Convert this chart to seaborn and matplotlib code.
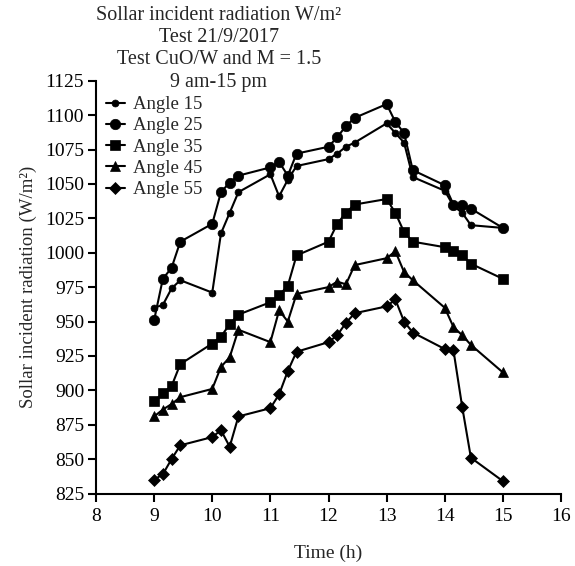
import matplotlib
matplotlib.use("Agg")
import matplotlib.pyplot as plt
import seaborn as sns
import pandas as pd
import numpy as np

# ---- data ----
times = [9, 9.15, 9.3, 9.45, 10, 10.15, 10.3, 10.45, 11, 11.15, 11.3, 11.45,
         12, 12.15, 12.3, 12.45, 13, 13.15, 13.3, 13.45, 14, 14.15, 14.3, 14.45, 15]
angle15 = [960, 962, 974, 980, 971, 1014, 1029, 1044, 1057, 1041, 1053, 1063,
           1068, 1072, 1077, 1080, 1094, 1087, 1080, 1055, 1045, 1034, 1029, 1020, 1018]
angle25 = [951, 981, 989, 1008, 1021, 1044, 1051, 1056, 1062, 1066, 1056, 1072,
           1077, 1084, 1092, 1098, 1108, 1095, 1087, 1060, 1049, 1035, 1035, 1032, 1018]
angle35 = [892, 898, 903, 919, 934, 939, 948, 955, 964, 969, 976, 998,
           1008, 1021, 1029, 1035, 1039, 1029, 1015, 1008, 1004, 1001, 998, 992, 981]
angle45 = [881, 886, 890, 895, 901, 917, 924, 944, 935, 958, 950, 970,
           975, 979, 977, 991, 996, 1001, 986, 980, 960, 946, 940, 933, 913]
angle55 = [835, 839, 850, 860, 866, 871, 859, 881, 887, 897, 914, 928,
           935, 940, 949, 956, 961, 966, 950, 942, 930, 929, 888, 851, 834]
series_labels = ["Angle 15", "Angle 25", "Angle 35", "Angle 45", "Angle 55"]
x_ticks = [8, 9, 10, 11, 12, 13, 14, 15, 16]
y_ticks = list(range(825, 1126, 25))
title_lines = ["Sollar incident radiation W/m²", "Test 21/9/2017",
               "Test CuO/W and M = 1.5", "9 am-15 pm"]

sns.set_style("ticks")
plt.rcParams['font.family'] = ['Liberation Serif', 'DejaVu Serif']

fig = plt.figure(figsize=(5.75, 5.66), dpi=100)
ax = fig.add_axes([96/575, 1-493.5/566, (561-96)/575, (493.5-80.7)/566])

styles = [("o", 5.0), ("o", 7.5), ("s", 7.0), ("^", 7.5), ("D", 6.0)]
all_vals = [angle15, angle25, angle35, angle45, angle55]
for lab, vals, (mk, ms) in zip(series_labels, all_vals, styles):
    df = pd.DataFrame({"Time": times, "Value": vals})
    sns.lineplot(data=df, x="Time", y="Value", ax=ax, color="black",
                 marker=mk, markersize=ms, markeredgecolor="black",
                 markerfacecolor="black", markeredgewidth=0.5,
                 linewidth=1.5, label=lab, estimator=None, sort=False)

ax.set_xlim(8, 16)
ax.set_ylim(825, 1125)
ax.set_xticks(x_ticks)
ax.set_yticks(y_ticks)
ax.tick_params(axis='both', direction='out', length=5.5, width=1.5,
               labelsize=14, colors='black')
ax.tick_params(axis='x', pad=5)
ax.tick_params(axis='y', pad=3)
for s in ["top", "right"]:
    ax.spines[s].set_visible(False)
for s in ["left", "bottom"]:
    ax.spines[s].set_linewidth(1.5)
    ax.spines[s].set_color("black")

ax.set_xlabel("Time (h)", fontsize=14, labelpad=14)
ax.set_ylabel("Sollar incident radiation (W/m²)", fontsize=13.5, labelpad=6)

leg = ax.legend(loc="upper left", bbox_to_anchor=(106/575, 1-96/566),
                bbox_transform=fig.transFigure, frameon=False, fontsize=13.5,
                handlelength=1.0, handletextpad=0.42, labelspacing=0.22,
                borderaxespad=0, borderpad=0)

ys = [15, 37, 60, 82]
for t, yy in zip(title_lines, ys):
    fig.text(219/575, 1-yy/566, t, ha="center", va="center", fontsize=14.5)

fig.savefig("out.png", dpi=100)
